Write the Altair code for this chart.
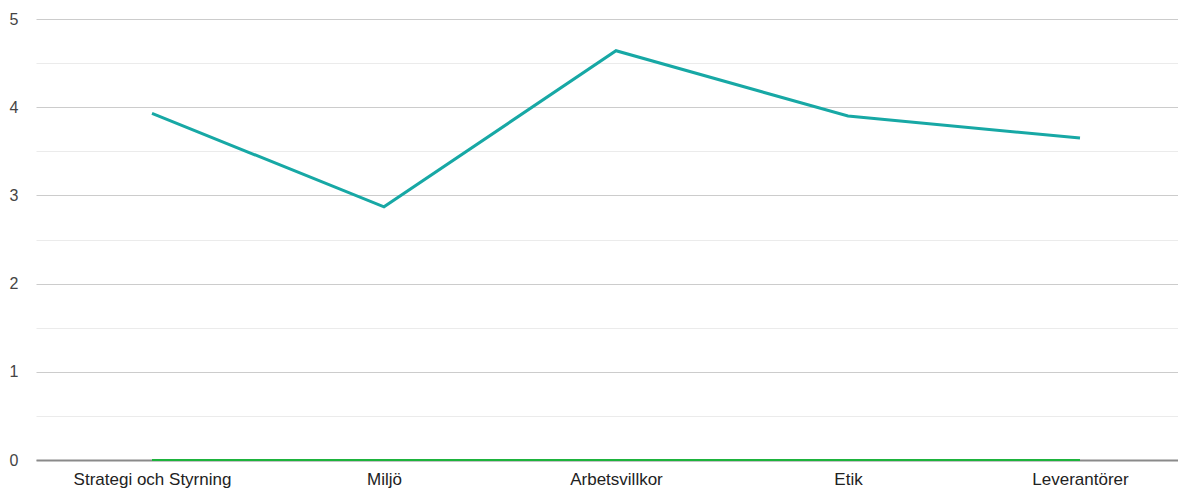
import altair as alt
import pandas as pd
import json

categories = ["Strategi och Styrning", "Miljö", "Arbetsvillkor", "Etik", "Leverantörer"]
score_values = [3.93, 2.87, 4.64, 3.90, 3.65]
zero_values = [0, 0, 0, 0, 0]

idx = list(range(len(categories)))
df_main = pd.DataFrame({"i": idx, "cat": categories, "value": score_values})
df_zero = pd.DataFrame({"i": idx, "cat": categories, "value": zero_values})

W, H = 1142, 441
cat_js = json.dumps(categories, ensure_ascii=False)

x = alt.X(
    "i:Q",
    scale=alt.Scale(domain=[-0.5, 4.4224], nice=False, zero=False),
    axis=alt.Axis(
        title=None, values=idx, labelAngle=0, ticks=False, grid=False,
        labelExpr=f"{cat_js}[datum.value]",
        domainColor="#8a8a8a", domainWidth=2,
        labelFont="Arial", labelFontSize=17, labelColor="#222222",
        labelPadding=11, labelFlush=False, labelOverlap=False,
    ),
)
y = alt.Y(
    "value:Q",
    scale=alt.Scale(domain=[0, 5], nice=False),
    axis=alt.Axis(
        title=None, values=[0, 0.5, 1, 1.5, 2, 2.5, 3, 3.5, 4, 4.5, 5],
        labelExpr="datum.value % 1 === 0 ? format(datum.value, 'd') : ''",
        ticks=False, domain=False,
        gridColor={"condition": {"test": "datum.value % 1 === 0", "value": "#cccccc"}, "value": "#ebebeb"},
        gridWidth=1,
        labelFont="Arial", labelFontSize=16, labelColor="#444444",
        labelPadding=18,
    ),
)

zero_line = alt.Chart(df_zero).mark_line(color="#1db33c", strokeWidth=2).encode(x=x, y=y, order="i:Q")
main_line = alt.Chart(df_main).mark_line(color="#17a8a5", strokeWidth=3).encode(x=x, y=y, order="i:Q")

chart = alt.layer(zero_line, main_line).properties(
    width=W, height=H,
    background="white",
    autosize=alt.AutoSizeParams(type="none"),
    padding={"left": 28, "top": 11, "right": 0, "bottom": 29},
).configure_view(stroke=None)

chart.save("out.html", embed_options={"renderer": "svg", "actions": False})
